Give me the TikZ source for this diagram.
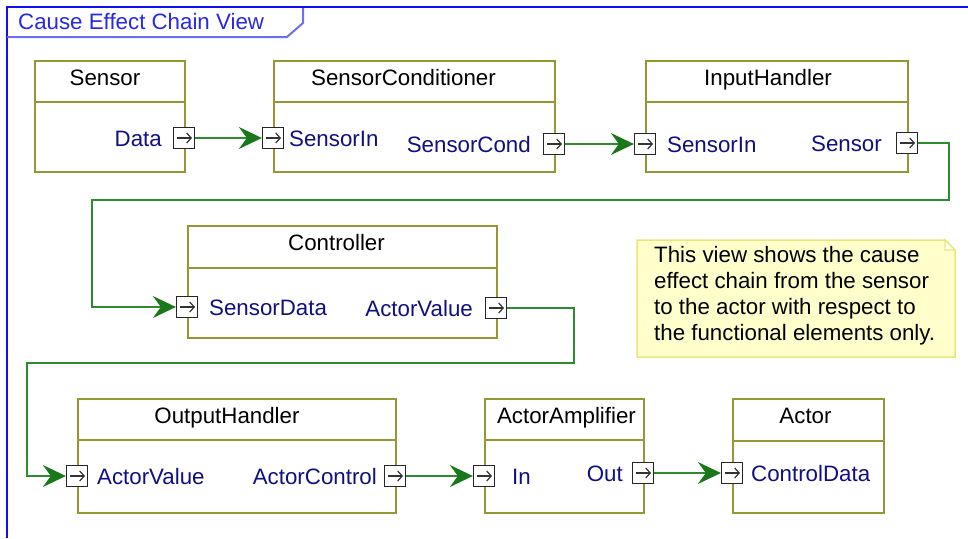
\documentclass[tikz,border=0pt]{standalone}
\usepackage{fontspec}
\setmainfont{Liberation Sans}
\usetikzlibrary{arrows.meta}

\definecolor{frameblue}{RGB}{16,16,240}
\definecolor{tabblue}{RGB}{110,110,240}
\definecolor{titleblue}{RGB}{40,40,230}
\definecolor{portnavy}{RGB}{16,16,130}
\definecolor{blockolive}{RGB}{150,150,50}
\definecolor{linkgreen}{RGB}{45,140,45}
\definecolor{tipgreen}{RGB}{25,120,25}
\definecolor{notefill}{RGB}{255,255,204}
\definecolor{noteline}{RGB}{232,232,120}

\newcommand\diagfont{\fontsize{22.3}{26}\selectfont}

\tikzset{
  block/.style={draw=blockolive, line width=2pt, fill=white, inner sep=0pt, anchor=north west},
  divider/.style={draw=blockolive, line width=2pt},
  title/.style={anchor=base, font=\diagfont, text=black, inner sep=0pt},
  port/.style={draw=black!85, fill=white, line width=1.3pt, minimum size=21pt, inner sep=0pt,
    path picture={\draw[black!80, line width=1.2pt, -{Straight Barb[length=4.5pt,width=10pt]}]
      ([xshift=-7pt]path picture bounding box.center) -- ([xshift=8pt]path picture bounding box.center);}},
  portlblW/.style={anchor=base west, font=\diagfont, text=portnavy, inner sep=0pt},
  portlblE/.style={anchor=base east, font=\diagfont, text=portnavy, inner sep=0pt},
  conn/.style={draw=linkgreen, line width=1.8pt,
    -{Stealth[length=23pt,width=22pt,inset=8pt,fill=tipgreen,color=tipgreen]}},
  notetext/.style={anchor=base west, font=\diagfont, text=black, inner sep=0pt},
}

\begin{document}
\begin{tikzpicture}[x=1pt,y=-1pt]
\useasboundingbox (0,0) rectangle (968,538);

% view frame and its title tab
\draw[frameblue, line width=2.4pt] (7,538) -- (7,7) -- (968,7);
\draw[tabblue, line width=2pt] (7,37) -- (287,37) -- (303,23) -- (303,8);
\node[anchor=base west, font=\diagfont, text=titleblue, inner sep=0pt] (viewtitle) at (18,29) {Cause Effect Chain View};

% functional blocks
\node[block, minimum width=150pt, minimum height=111pt] (sensor) at (34,60) {};
\node[block, minimum width=281pt, minimum height=111pt] (cond)   at (273,60) {};
\node[block, minimum width=262pt, minimum height=111pt] (inh)    at (645,60) {};
\node[block, minimum width=309pt, minimum height=112pt] (ctrl)   at (187,225) {};
\node[block, minimum width=318pt, minimum height=114pt] (outh)   at (77,398) {};
\node[block, minimum width=159pt, minimum height=114pt] (amp)    at (484,398) {};
\node[block, minimum width=151pt, minimum height=114pt] (actor)  at (732,398) {};

\foreach \b/\d in {sensor/42, cond/42, inh/42, ctrl/43, outh/42, amp/42, actor/43}
  \draw[divider] ([yshift=-\d pt]\b.north west) -- ([yshift=-\d pt]\b.north east);

\foreach \b/\t/\s in {sensor/Sensor/-5, cond/SensorConditioner/-11, inh/InputHandler/-9,
                      ctrl/Controller/-6, outh/OutputHandler/-10, amp/ActorAmplifier/2, actor/Actor/-3}
  \node[title] (\b-title) at ([xshift=\s pt, yshift=-25pt]\b.north) {\t};

% note
\draw[noteline, fill=notefill, line width=1.5pt]
  (637,240) -- (945,240) -- (955,250) -- (955,357) -- (637,357) -- cycle;
\draw[noteline, fill=white, line width=1.2pt] (945,240) -- (945,250) -- (955,250) -- cycle;
\node[notetext] (note1) at (654,262) {This view shows the cause};
\node[notetext] (note2) at (654,288) {effect chain from the sensor};
\node[notetext] (note3) at (654,314) {to the actor with respect to};
\node[notetext] (note4) at (654,340) {the functional elements only.};

% ports
\node[port] (sensorData) at (184,138) {};
\node[port] (condIn)     at (273,138) {};
\node[port] (condOut)    at (554,144) {};
\node[port] (inhIn)      at (645,144) {};
\node[port] (inhOut)     at (907,143) {};
\node[port] (ctrlIn)     at (187,307) {};
\node[port] (ctrlOut)    at (496,308) {};
\node[port] (ohIn)       at (77,476) {};
\node[port] (ohOut)      at (395,476) {};
\node[port] (ampIn)      at (484,476) {};
\node[port] (ampOut)     at (643,473) {};
\node[port] (actIn)      at (732,473) {};

% port labels
\node[portlblE] at ([xshift=-22pt,yshift=-8pt]sensorData.center) {Data};
\node[portlblW] at ([xshift=16pt,yshift=-8pt]condIn.center) {SensorIn};
\node[portlblE] at ([xshift=-23pt,yshift=-8pt]condOut.center) {SensorCond};
\node[portlblW] at ([xshift=22pt,yshift=-8pt]inhIn.center) {SensorIn};
\node[portlblE] at ([xshift=-25pt,yshift=-8pt]inhOut.center) {Sensor};
\node[portlblW] at ([xshift=22pt,yshift=-8pt]ctrlIn.center) {SensorData};
\node[portlblE] at ([xshift=-23pt,yshift=-8pt]ctrlOut.center) {ActorValue};
\node[portlblW] at ([xshift=20pt,yshift=-8pt]ohIn.center) {ActorValue};
\node[portlblE] at ([xshift=-18pt,yshift=-8pt]ohOut.center) {ActorControl};
\node[portlblW] at ([xshift=28pt,yshift=-8pt]ampIn.center) {In};
\node[portlblE] at ([xshift=-20pt,yshift=-8pt]ampOut.center) {Out};
\node[portlblW] at ([xshift=19pt,yshift=-8pt]actIn.center) {ControlData};

% cause effect chain connectors
\coordinate (bendA) at (949,200);
\coordinate (bendB) at (92,200);
\coordinate (bendC) at (574,363);
\coordinate (bendD) at (27,363);
\draw[conn] (sensorData.east) -- (condIn.west);
\draw[conn] (condOut.east) -- (inhIn.west);
\draw[conn] (inhOut.east) -| (bendA) -- (bendB) |- (ctrlIn.west);
\draw[conn] (ctrlOut.east) -| (bendC) -- (bendD) |- (ohIn.west);
\draw[conn] (ohOut.east) -- (ampIn.west);
\draw[conn] (ampOut.east) -- (actIn.west);
\end{tikzpicture}
\end{document}
